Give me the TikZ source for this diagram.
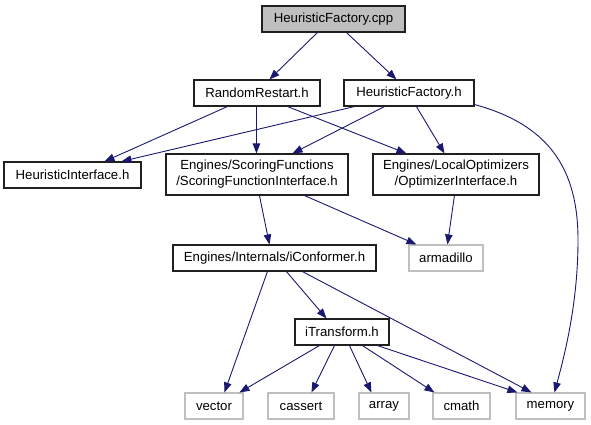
\documentclass[tikz,border=0pt]{standalone}
\usepackage{fontspec}
\setmainfont{Liberation Sans}
\usetikzlibrary{arrows.meta}
\definecolor{edgec}{HTML}{191970}
\definecolor{grayb}{HTML}{BFBFBF}
\definecolor{boxb}{HTML}{202020}
\begin{document}
\begin{tikzpicture}[x=1pt,y=-1pt,
  box/.style={draw=boxb, line width=1.1pt, inner sep=0pt, minimum height=26pt,
    font=\fontsize{13.2}{16}\selectfont, align=center},
  sys/.style={box, draw=grayb},
  edge/.style={draw=edgec, line width=0.9pt, -{Triangle[length=10pt,width=7.5pt]}}]
\useasboundingbox (0,0) rectangle (591,425);
% nodes
\node[box, fill=grayb, minimum width=143pt] (cpp) at (333.5,19) {HeuristicFactory.cpp};
\node[box, minimum width=126pt] (rr) at (257,93) {RandomRestart.h};
\node[box, minimum width=130pt] (hfh) at (409,93) {HeuristicFactory.h};
\node[box, minimum width=137pt] (hi) at (72.5,175) {HeuristicInterface.h};
\node[box, minimum width=182pt, minimum height=41pt] (sf) at (257,174.5) {Engines/ScoringFunctions\\/ScoringFunctionInterface.h};
\node[box, minimum width=166pt, minimum height=41pt] (lo) at (456,174.5) {Engines/LocalOptimizers\\/OptimizerInterface.h};
\node[box, minimum width=203pt] (ic) at (274.5,258) {Engines/Internals/iConformer.h};
\node[sys, minimum width=74pt] (arm) at (446,258) {armadillo};
\node[box, minimum width=94pt] (it) at (342,332) {iTransform.h};
\node[sys, minimum width=58pt] (vec) at (214,406) {vector};
\node[sys, minimum width=66pt] (cas) at (301,406) {cassert};
\node[sys, minimum width=50pt] (arr) at (384,406) {array};
\node[sys, minimum width=57pt] (cma) at (461.5,406) {cmath};
\node[sys, minimum width=69pt] (mem) at (550.5,406) {memory};
% edges
\draw[edge] ([xshift=56pt]cpp.south west) -- ([xshift=76pt]rr.north west);
\draw[edge] ([xshift=85pt]cpp.south west) -- ([xshift=53pt]hfh.north west);
\draw[edge] ([xshift=34pt]rr.south west) -- ([xshift=101pt]hi.north west);
\draw[edge] ([xshift=11pt]hfh.south west) -- ([xshift=118pt]hi.north west);
\draw[edge] ([xshift=63pt]rr.south west) -- ([xshift=91pt]sf.north west);
\draw[edge] ([xshift=94pt]rr.south west) -- ([xshift=34pt]lo.north west);
\draw[edge] ([xshift=41pt]hfh.south west) -- ([xshift=127pt]sf.north west);
\draw[edge] ([xshift=73pt]hfh.south west) -- ([xshift=72pt]lo.north west);
\draw[edge] ([yshift=2pt]hfh.south east) .. controls (550,125) and (578,170) .. (578,240)
  .. controls (578,300) and (566,350) .. ([xshift=39pt]mem.north west);
\draw[edge] ([xshift=94pt]sf.south west) -- ([xshift=97pt]ic.north west);
\draw[edge] ([xshift=139pt]sf.south west) -- ([xshift=8pt]arm.north west);
\draw[edge] ([xshift=82pt]lo.south west) -- ([xshift=39pt]arm.north west);
\draw[edge] ([xshift=95pt]ic.south west) -- ([xshift=40pt]vec.north west);
\draw[edge] ([xshift=114pt]ic.south west) -- ([xshift=32pt]it.north west);
\draw[edge] ([xshift=130pt]ic.south west) -- ([xshift=16pt]mem.north west);
\draw[edge] ([xshift=25pt]it.south west) -- ([xshift=55pt]vec.north west);
\draw[edge] ([xshift=40pt]it.south west) -- ([xshift=44pt]cas.north west);
\draw[edge] ([xshift=55pt]it.south west) -- ([xshift=13pt]arr.north west);
\draw[edge] ([xshift=68pt]it.south west) -- ([xshift=2pt]cma.north west);
\draw[edge] ([xshift=83pt]it.south west) -- ([xshift=2pt]mem.north west);
\end{tikzpicture}
\end{document}
